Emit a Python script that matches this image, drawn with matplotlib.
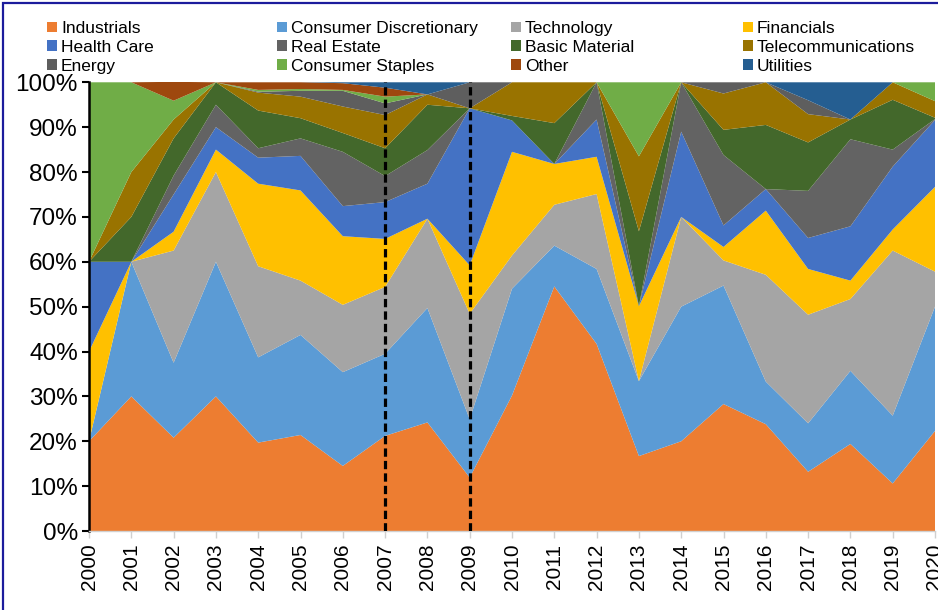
import numpy as np
import matplotlib
matplotlib.use('Agg')
import matplotlib.pyplot as plt
from matplotlib.patches import Rectangle, Patch
from matplotlib.ticker import FuncFormatter

plt.rcParams['font.family'] = ['Liberation Sans', 'DejaVu Sans']

# share of companies by sector, % (2000-2020)
years = list(range(2000, 2021))
industrials = [20, 30, 20.8, 30, 19.7, 21.4, 14.5, 21.2, 24.2, 11.9, 30.2, 54.5, 41.7, 16.7, 20, 28.3, 23.8, 13.2, 19.4, 10.6, 22.3]
cons_disc = [0, 30, 16.7, 30, 19, 22.3, 20.9, 18.3, 25.5, 13, 23.8, 9.1, 16.7, 16.7, 30, 26.4, 9.5, 10.8, 16.3, 15.1, 27.7]
technology = [0, 0, 25, 20, 20.3, 12.1, 15, 14.9, 19.9, 23.5, 7.4, 9.1, 16.7, 0, 20, 5.6, 23.8, 24.2, 16, 36.8, 7.8]
financials = [20, 0, 4.2, 5, 18.4, 20.1, 15.3, 10.7, 0, 10.8, 23.1, 9.1, 8.3, 16.7, 0, 3, 14.3, 10.2, 4.1, 4.7, 18.9]
health_care = [20, 0, 8.3, 5, 5.8, 7.7, 6.7, 8.2, 7.8, 35, 7, 0, 8.3, 0, 19, 4.8, 4.8, 6.9, 12.1, 14, 14.9]
real_estate = [0, 0, 4.2, 5, 2.1, 3.9, 12.1, 5.8, 7.5, 0, 0, 0, 8.3, 0, 11, 15.7, 0, 10.5, 19.4, 3.8, 0.2]
basic_mat = [0, 10, 8.3, 5, 8.4, 4.5, 4.2, 6.2, 10.1, 0, 1, 9.1, 0, 16.7, 0, 5.6, 14.3, 10.8, 4.4, 11.1, 0.3]
telecom = [0, 10, 4.2, 0, 4.0, 4.8, 5.9, 7.4, 2.3, 0, 7.5, 9.1, 0, 16.7, 0, 8.1, 9.5, 6.3, 0, 3.9, 3.7]
energy = [0, 0, 0, 0, 0.2, 1.3, 3.5, 2.6, 0, 5.8, 0, 0, 0, 0, 0, 2.5, 0, 3.1, 0, 0, 0]
cons_staples = [40, 20, 4.2, 0, 0.4, 0.4, 0.2, 1.5, 0, 0, 0, 0, 0, 16.5, 0, 0, 0, 0, 0, 0, 4.2]
other = [0, 0, 4.2, 0, 1.7, 1.5, 1.5, 2.0, 0, 0, 0, 0, 0, 0, 0, 0, 0, 0, 0, 0, 0]
utilities = [0, 0, 0, 0, 0, 0, 0.2, 1.2, 2.7, 0, 0, 0, 0, 0, 0, 0, 0, 4, 8.3, 0, 0]

labels = ['Industrials', 'Consumer Discretionary', 'Technology', 'Financials',
          'Health Care', 'Real Estate', 'Basic Material', 'Telecommunications',
          'Energy', 'Consumer Staples', 'Other', 'Utilities']
colors = ['#ED7D31', '#5B9BD5', '#A5A5A5', '#FFC000', '#4472C4', '#636363',
          '#43682B', '#997300', '#5E5E5E', '#70AD47', '#9E480E', '#255E91']
crisis_years = [2007, 2009]

series = [industrials, cons_disc, technology, financials, health_care, real_estate,
          basic_mat, telecom, energy, cons_staples, other, utilities]

fig = plt.figure(figsize=(9.38, 6.10), dpi=100)
ax = fig.add_axes([0.0949, 0.1295, 0.9019, 0.7356])

ax.stackplot(years, *[np.array(s) / 100 for s in series], colors=colors, labels=labels, linewidth=0)

for yr in crisis_years:
    ax.plot([yr, yr], [0, 1], color='black', lw=2.3, dashes=(2.6, 1.3), zorder=5)

ax.set_xlim(2000, 2020)
ax.set_ylim(0, 1)
ax.set_xticks(years)
ax.set_xticklabels([str(y) for y in years], rotation=90, fontsize=15)
ax.set_yticks(np.arange(0, 1.01, 0.1))
ax.yaxis.set_major_formatter(FuncFormatter(lambda v, p: '{:.0f}%'.format(v * 100)))
ax.tick_params(axis='y', labelsize=17.5, length=5, width=1.5, color='black', pad=3)
ax.tick_params(axis='x', length=5, width=1, color='#d0d0d0', pad=4)

for s in ['top', 'right']:
    ax.spines[s].set_visible(False)
ax.spines['left'].set_color('black')
ax.spines['left'].set_linewidth(1.8)
ax.spines['bottom'].set_color('#d0d0d0')
ax.spines['bottom'].set_linewidth(1)

# legend: 4 fixed-width columns like the original
handles = [Patch(facecolor=c, edgecolor='none') for c in colors]
col_x = [47, 277, 511, 743]
for j, x0 in enumerate(col_x):
    idx = [j, j + 4, j + 8]
    fig.legend([handles[i] for i in idx], [labels[i] for i in idx],
               loc='upper left', bbox_to_anchor=(x0 / 938, 1 - 21 / 610),
               frameon=False, fontsize=12.5, handlelength=0.55, handleheight=0.55,
               handletextpad=0.25, labelspacing=0.22, borderpad=0, borderaxespad=0)

# navy frame of the chart box
fig.patches.append(Rectangle((3 / 938, -0.05), 1.2, 1.05 - 3 / 610, transform=fig.transFigure,
                             fill=False, edgecolor='#1c1c9c', linewidth=1.6, clip_on=False))

fig.savefig('out.png', dpi=100)
